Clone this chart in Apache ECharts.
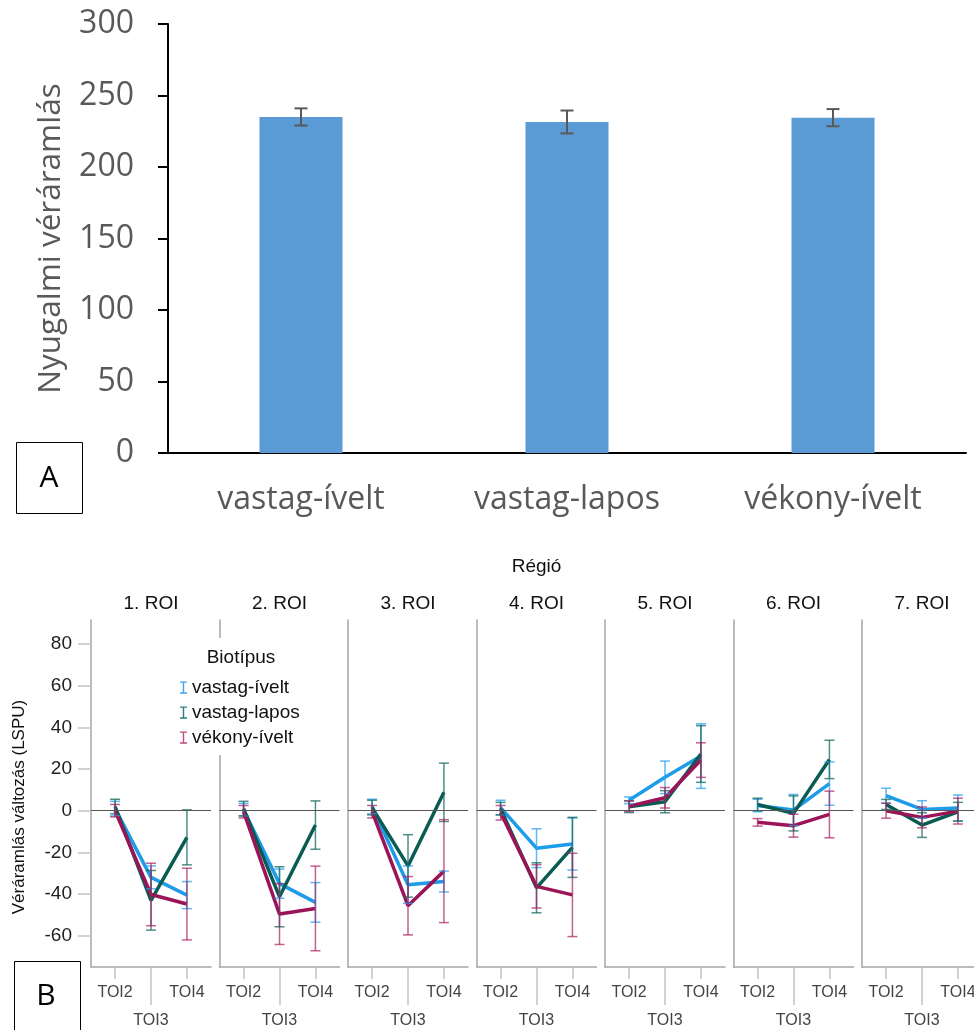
<!DOCTYPE html>
<html>
<head>
<meta charset="utf-8">
<script src="https://cdn.jsdelivr.net/npm/echarts@6/dist/echarts.min.js"></script>
<style>
  html, body { margin: 0; padding: 0; background: #fff; }
  #chart { width: 974px; height: 1030px; }
</style>
</head>
<body>
<div id="chart"></div>
<script>
// A panel: resting blood flow per biotype
const topCats = ['vastag-ívelt', 'vastag-lapos', 'vékony-ívelt'];
const restFlow = [235, 231.5, 234.5];
const restErr = [6, 8, 6];

// B panel: blood flow change per region, time window, biotype
const regions = ['1. ROI', '2. ROI', '3. ROI', '4. ROI', '5. ROI', '6. ROI', '7. ROI'];
const tois = ['TOI2', 'TOI3', 'TOI4'];
const groups = ['vastag-ívelt', 'vastag-lapos', 'vékony-ívelt'];
const yTicks = [-60, -40, -20, 0, 20, 40, 60, 80];

const meanVastagIvelt = [[1, -32, -40.5], [0.5, -35, -44], [2, -35.5, -34], [1.5, -18, -16], [5, 16, 26.2], [2.5, 0.3, 13], [7.2, 0.6, 1.3]];
const errVastagIvelt = [[3.5, 5.5, 6.5], [3, 7, 9.5], [3.5, 9, 5], [3.5, 9.3, 12.5], [1.6, 7.8, 15.5], [3, 7.5, 10.4], [3.6, 4.2, 6.2]];
const meanVastagLapos = [[2, -43, -12.8], [1, -41.3, -6.9], [1.5, -26.5, 8.8], [1, -37, -17.6], [1.9, 4.3, 27.2], [3, -1.3, 24.6], [3, -6.9, -0.5]];
const errVastagLapos = [[3.5, 14.3, 13.2], [3.5, 14.4, 11.6], [3.5, 15, 14], [3, 12, 14.4], [2.8, 5.3, 13.6], [3, 8.4, 9.2], [2.4, 5.9, 4.5]];
const meanVekonyIvelt = [[0, -40.2, -44.8], [-0.5, -49.6, -46.9], [-0.5, -45.6, -29], [-1, -36.3, -40.4], [2.2, 6.2, 24.3], [-5.6, -7.2, -1.8], [0, -3.2, -0.2]];
const errVekonyIvelt = [[3, 15, 17.2], [3, 14.6, 20.3], [3, 14, 24.7], [3.5, 10.4, 20], [2.5, 4.9, 8.3], [1.8, 5.5, 11.2], [3.6, 5, 6.2]];

const means = [meanVastagIvelt, meanVastagLapos, meanVekonyIvelt];
const errs = [errVastagIvelt, errVastagLapos, errVekonyIvelt];
const lineColors = ['#1e9be9', '#0a5c52', '#9c1458'];
const barColors = ['rgba(40,160,240,0.75)', 'rgba(20,105,95,0.75)', 'rgba(170,30,95,0.7)'];
const legendColors = ['#3aa4f0', '#2e8078', '#c04a80'];

// layout of the small multiples
const panelLeft = 91, panelStep = 128.5, panelWidth = 120, panelTop = 620, panelHeight = 347;
const fontB = 'Liberation Sans';
const fontA = 'Open Sans';

// error bar drawer (value 0 = x, 1 = low, 2 = high)
function errorBar(color, width, capHalf) {
  return (params, api) => {
    const top = api.coord([api.value(0), api.value(2)]);
    const bot = api.coord([api.value(0), api.value(1)]);
    const st = { stroke: color, lineWidth: width };
    return {
      type: 'group',
      children: [
        { type: 'line', shape: { x1: top[0], y1: top[1], x2: bot[0], y2: bot[1] }, style: st },
        { type: 'line', shape: { x1: top[0] - capHalf, y1: top[1], x2: top[0] + capHalf, y2: top[1] }, style: st },
        { type: 'line', shape: { x1: bot[0] - capHalf, y1: bot[1], x2: bot[0] + capHalf, y2: bot[1] }, style: st }
      ]
    };
  };
}

const grids = [{ left: 168, top: 24, width: 798, height: 429, outerBoundsMode: 'none' }];
const xAxes = [{
  type: 'category', gridIndex: 0, data: topCats,
  axisLine: { lineStyle: { color: '#000', width: 2 } },
  axisTick: { show: false },
  axisLabel: { fontFamily: fontA, fontSize: 32, color: '#595959', margin: 31 }
}];
const yAxes = [{
  type: 'value', gridIndex: 0, min: 0, max: 300, interval: 50,
  name: 'Nyugalmi véráramlás', nameLocation: 'middle', nameGap: 101,
  nameTextStyle: { fontFamily: fontA, fontSize: 31.5, color: '#595959' },
  axisLine: { show: true, lineStyle: { color: '#000', width: 2 } },
  axisTick: { show: true, length: 10, lineStyle: { color: '#000', width: 2 } },
  axisLabel: { fontFamily: fontA, fontSize: 32, color: '#595959', margin: 34 },
  splitLine: { show: false }
}];
const series = [
  {
    type: 'bar', xAxisIndex: 0, yAxisIndex: 0, barWidth: 83,
    itemStyle: { color: '#5b9bd5' },
    data: restFlow
  },
  {
    type: 'custom', xAxisIndex: 0, yAxisIndex: 0, z: 5,
    renderItem: errorBar('#595959', 2, 6.5),
    data: restFlow.map((v, i) => [i, v - restErr[i], v + restErr[i]])
  }
];

const graphics = [
  { type: 'rect', shape: { x: 16.5, y: 442.5, width: 66, height: 71 }, style: { fill: '#fff', stroke: '#000', lineWidth: 1 } },
  { type: 'text', x: 49, y: 478, style: { text: 'A', font: '30px "' + fontA + '"', fill: '#000', align: 'center', verticalAlign: 'middle' } },
  { type: 'rect', shape: { x: 14.5, y: 961.5, width: 66, height: 90 }, style: { fill: '#fff', stroke: '#000', lineWidth: 1 }, z: 10 },
  { type: 'text', x: 46, y: 996, z: 11, style: { text: 'B', font: '30px "' + fontA + '"', fill: '#000', align: 'center', verticalAlign: 'middle' } },
  { type: 'text', x: panelLeft + (panelStep * 6 + panelWidth) / 2, y: 567, style: { text: 'Régió', font: '19px "' + fontB + '"', fill: '#111', align: 'center', verticalAlign: 'middle' } },
  { type: 'text', x: 19, y: 807, rotation: Math.PI / 2, style: { text: 'Véráramlás változás (LSPU)', font: '17px "' + fontB + '"', fill: '#111', align: 'center', verticalAlign: 'middle' } },
  { type: 'text', x: 241, y: 658, z: 20, style: { text: 'Biotípus', font: '19px "' + fontB + '"', fill: '#111', align: 'center', verticalAlign: 'middle' } }
];

regions.forEach((r, p) => {
  const gi = p + 1;
  const left = panelLeft + p * panelStep;
  grids.push({ left: left, top: panelTop, width: panelWidth, height: panelHeight, outerBoundsMode: 'none' });
  graphics.push({ type: 'text', x: left + panelWidth / 2, y: 604, style: { text: r, font: '19px "' + fontB + '"', fill: '#111', align: 'center', verticalAlign: 'middle' } });

  xAxes.push({
    type: 'value', gridIndex: gi, position: 'bottom', min: 0.33, max: 3.67,
    axisLine: { onZero: false, lineStyle: { color: '#a6a6a6', width: 1.5 } },
    axisTick: { show: true, customValues: [1, 3], length: 12, lineStyle: { color: '#c4c4c4', width: 1.5 } },
    axisLabel: {
      customValues: [1, 2, 3], margin: 12, lineHeight: 28,
      fontFamily: fontB, fontSize: 16, color: '#444',
      formatter: (v) => (v === 2 ? '\n' : '') + tois[Math.round(v) - 1]
    },
    splitLine: { show: false }
  });
  // long tick under TOI3
  xAxes.push({
    type: 'value', gridIndex: gi, position: 'bottom', offset: 0, min: 0.33, max: 3.67,
    axisLine: { show: false, onZero: false },
    axisTick: { show: true, customValues: [2], length: 38, lineStyle: { color: '#c4c4c4', width: 1.5 } },
    axisLabel: { show: false },
    splitLine: { show: false }
  });
  const xi = xAxes.length - 2;

  yAxes.push({
    type: 'value', gridIndex: gi, min: -75, max: 91.5,
    axisLine: { show: true, onZero: false, lineStyle: { color: '#a6a6a6', width: 1.5 } },
    axisTick: { show: p === 0, customValues: yTicks, length: 13, lineStyle: { color: '#c4c4c4', width: 1.5 } },
    axisLabel: { show: p === 0, customValues: yTicks, margin: 19, fontFamily: fontB, fontSize: 19, color: '#222' },
    splitLine: { show: false }
  });
  const yi = yAxes.length - 1;

  groups.forEach((g, k) => {
    series.push({
      name: g, type: 'line', xAxisIndex: xi, yAxisIndex: yi,
      showSymbol: false, symbol: 'none', z: 3,
      lineStyle: { color: lineColors[k], width: 3.5 },
      itemStyle: { color: lineColors[k] },
      data: means[k][p].map((m, t) => [t + 1, m]),
      markLine: k === 0 ? {
        silent: true, symbol: 'none', label: { show: false },
        lineStyle: { color: '#555', width: 1, type: 'solid' },
        data: [{ yAxis: 0 }]
      } : undefined
    });
    series.push({
      type: 'custom', xAxisIndex: xi, yAxisIndex: yi, z: 4,
      renderItem: errorBar(barColors[k], 1.5, 5),
      data: means[k][p].map((m, t) => [t + 1, m - errs[k][p][t], m + errs[k][p][t]])
    });
  });
});

const iconI = 'path://M0,0h8v1.6h-3.2v10.8h3.2v1.6h-8v-1.6h3.2v-10.8h-3.2z';

const chart = echarts.init(document.getElementById('chart'));
chart.setOption({
  animation: false,
  grid: grids,
  xAxis: xAxes,
  yAxis: yAxes,
  legend: {
    orient: 'vertical', left: 174, top: 638,
    padding: [40, 8, 8, 6], backgroundColor: '#fff',
    itemWidth: 7, itemHeight: 14, itemGap: 6,
    textStyle: { fontFamily: fontB, fontSize: 19, color: '#111' },
    data: groups.map((g, k) => ({ name: g, icon: iconI, itemStyle: { color: legendColors[k] } }))
  },
  graphic: graphics,
  series: series
});
</script>
</body>
</html>
